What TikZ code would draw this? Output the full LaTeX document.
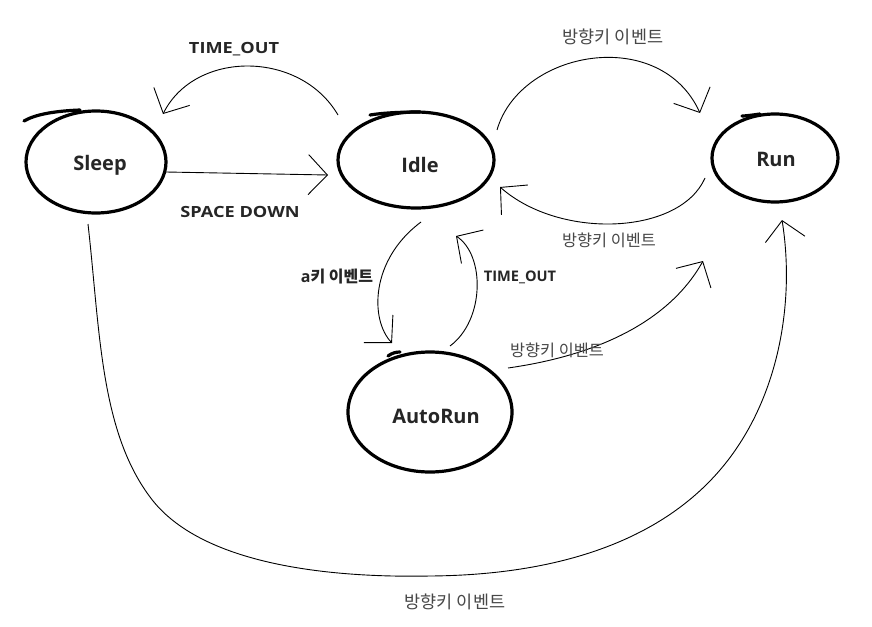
\documentclass[tikz,border=0pt]{standalone}
\usepackage{fontspec}
\setmainfont{Open Sans}
\newfontfamily\kr{Noto Sans CJK KR}
\newfontfamily\widesans[FakeStretch=1.18]{Open Sans}
\usetikzlibrary{arrows.meta,calc,shapes.geometric}
\begin{document}
\begin{tikzpicture}[x=1pt,y=-1pt,
  state/.style={ellipse, draw, line width=3.2pt, inner sep=0pt},
  statename/.style={font=\fontsize{20}{24}\selectfont\bfseries, text=black!85, inner sep=0pt},
  nodetail/.style={line width=3.2pt, line cap=round},
  edge/.style={line width=0.9pt,
    -{Straight Barb[length=19pt,width=40pt,line width=0.9pt]}},
  caplabel/.style={font=\widesans\fontsize{15.4}{18}\selectfont\bfseries, text=black!85, inner sep=0pt},
  smallcap/.style={font=\fontsize{14.6}{18}\selectfont\bfseries, text=black!85, inner sep=0pt},
  krlabel/.style={font=\kr\fontsize{17.5}{20}\selectfont, text=black!72, inner sep=0pt},
  krsmall/.style={font=\kr\fontsize{16.3}{19}\selectfont, text=black!72, inner sep=0pt},
  krbold/.style={font=\fontsize{16}{19}\selectfont\bfseries, text=black!85, inner sep=0pt}
]
\useasboundingbox (0,0) rectangle (872,626);
\fill[white] (0,0) rectangle (872,626);

% states
\node[state, minimum width=140pt, minimum height=102pt] (sleep) at (96,162) {};
\node[state, minimum width=156pt, minimum height=96pt] (idle) at (416,160) {};
\node[state, minimum width=126pt, minimum height=88pt] (run) at (775,158) {};
\node[state, minimum width=164pt, minimum height=120pt] (autorun) at (430,412) {};

% state names
\node[statename] (tsleep) at (100,165) {Sleep};
\node[statename] (tidle) at (420,165) {Idle};
\node[statename] (trun) at (776,159) {Run};
\node[statename] (tauto) at (436,416) {AutoRun};

% hand-drawn stroke overlaps
\draw[nodetail] ($(sleep)+(-16,-52)$) .. controls ($(sleep)+(-40,-51)$) and ($(sleep)+(-60,-48)$) .. ($(sleep)+(-72,-41)$);
\draw[nodetail] ($(idle)+(4,-48)$) .. controls ($(idle)+(-16,-48)$) and ($(idle)+(-34,-47)$) .. ($(idle)+(-46,-45)$);
\draw[nodetail] ($(run)+(-15,-44)$) .. controls ($(run)+(-22,-43)$) and ($(run)+(-29,-42)$) .. ($(run)+(-33,-42)$);
\draw[nodetail] ($(autorun)+(-42,-56)$) .. controls ($(autorun)+(-38,-59)$) and ($(autorun)+(-34,-60)$) .. ($(autorun)+(-30,-60)$);

% connectors
\draw[edge] ($(idle)+(-78,-45)$) .. controls (300,50) and (195,50) .. ($(sleep)+(67,-48)$);
\draw[edge] ($(sleep)+(70,10)$) -- ($(idle)+(-88,15)$);
\draw[edge] ($(idle)+(81,-30)$) .. controls (520,50) and (660,25) .. ($(run)+(-75,-45)$);
\draw[edge] ($(run)+(-70,20)$) .. controls (680,235) and (560,240) .. ($(idle)+(84,27)$);
\draw[edge] ($(idle)+(5,62)$) .. controls (370,260) and (370,320) .. ($(autorun)+(-38,-69)$);
\draw[edge] ($(autorun)+(20,-66)$) .. controls (485,320) and (485,255) .. ($(idle)+(40,76)$);
\draw[edge] ($(autorun)+(78,-44)$) .. controls (600,355) and (670,320) .. ($(run)+(-72,103)$);
\coordinate (bottom) at (430,576);
\draw[edge] ($(sleep)+(-8,62)$) .. controls (100,330) and (100,430) .. (150,497)
  .. controls (200,565) and (330,578) .. (bottom)
  .. controls (560,575) and (660,540) .. (720,470)
  .. controls (780,400) and (795,300) .. ($(run)+(7,62)$);

% labels
\node[caplabel] (l1) at (234,49) {TIME\_OUT};
\node[caplabel] (l2) at (240,212) {SPACE DOWN};
\node[krlabel] (l3) at (613,37) {방향키 이벤트};
\node[krsmall] (l4) at (609,240) {방향키 이벤트};
\node[krbold] (l5) at (337,277) {a{\kr\bfseries 키 이벤트}};
\node[smallcap] (l6) at (520,277) {TIME\_OUT};
\node[krsmall] (l7) at (557,350) {방향키 이벤트};
\node[krlabel] (l8) at (455,602) {방향키 이벤트};
\end{tikzpicture}
\end{document}
